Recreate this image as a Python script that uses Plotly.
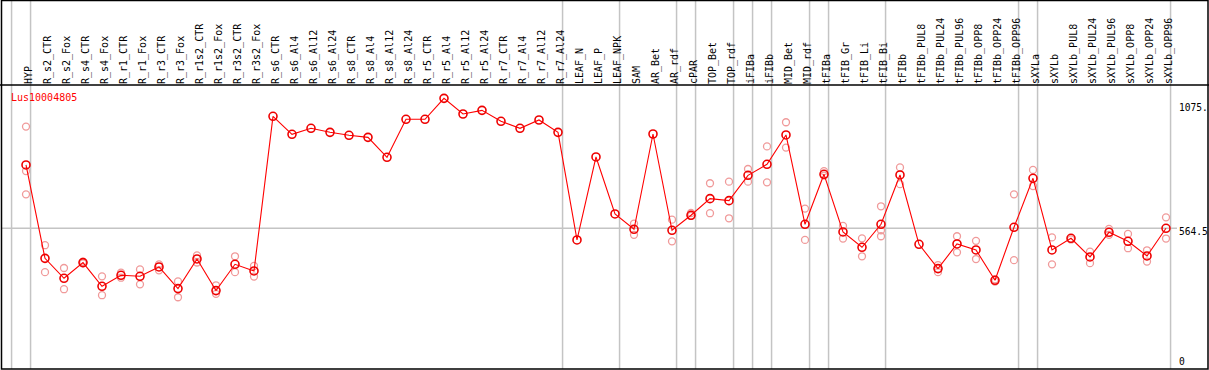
import plotly.graph_objects as go

# ---------------- data ----------------
categories = [
    "HYP", "R_s2_CTR", "R_s2_Fox", "R_s4_CTR", "R_s4_Fox", "R_r1_CTR", "R_r1_Fox",
    "R_r3_CTR", "R_r3_Fox", "R_r1s2_CTR", "R_r1s2_Fox", "R_r3s2_CTR", "R_r3s2_Fox",
    "R_s6_CTR", "R_s6_Al4", "R_s6_Al12", "R_s6_Al24", "R_s8_CTR", "R_s8_Al4",
    "R_s8_Al12", "R_s8_Al24", "R_r5_CTR", "R_r5_Al4", "R_r5_Al12", "R_r5_Al24",
    "R_r7_CTR", "R_r7_Al4", "R_r7_Al12", "R_r7_Al24", "LEAF_N", "LEAF_P", "LEAF_NPK",
    "SAM", "AR_Bet", "AR_rdf", "cPAR", "TOP_Bet", "TOP_rdf", "iFIBa", "iFIBb",
    "MID_Bet", "MID_rdf", "tFIBa", "tFIB_Gr", "tFIB_Li", "tFIB_Bi", "tFIBb",
    "tFIBb_PUL8", "tFIBb_PUL24", "tFIBb_PUL96", "tFIBb_OPP8", "tFIBb_OPP24",
    "tFIBb_OPP96", "sXYLa", "sXYLb", "sXYLb_PUL8", "sXYLb_PUL24", "sXYLb_PUL96",
    "sXYLb_OPP8", "sXYLb_OPP24", "sXYLb_OPP96",
]

means = [
    839.5, 434, 347.5, 415.5, 312.7, 360.5, 356, 396.6, 302.6, 431.4, 294, 408.2, 379.3,
    1050.7, 972.6, 998.6, 981.2, 968.2, 959.5, 872.7, 1037.7, 1037.7, 1128.8, 1060.8,
    1076.7, 1029, 998.6, 1034.8, 981.2,
    513.9, 874.2, 626.7, 560.2, 974, 555.8, 621, 693.3, 684.6, 794.6, 842.3, 969.7,
    581.9, 798.9, 548.6, 482, 581.9, 796,
    495, 389.4, 496.5, 470.4, 338.8, 568.8, 781.5, 470.4, 521.1, 440, 547.1, 508,
    444.4, 564.5,
]

rep_a = [
    1006, 491, 392, 420, 356, 372, 386, 408, 334, 447, 317, 443, 401,
    None, None, None, None, None, None, None, None, None, None, None, None, None, None, None, None,
    None, None, None, 585, None, 602, 631, 760, 767, 822, 920, 1025, 650, 813, 575, 521, 660, 829,
    None, 405, 530, 510, 343, 712, 818, 525, 516, 463, 562, 540, 469, 612,
]
rep_b = [
    712, 374, 300, 412, 274, 350, 321, 382, 265, 416, 280, 374, 355,
    None, None, None, None, None, None, None, None, None, None, None, None, None, None, None, None,
    None, None, None, 536, None, 508, 618, 630, 608, 767, 764, 915, 514, 793, 520, 443, 530, 756,
    None, 374, 460, 431, 333, 426, 748, 408, None, 413, 536, 478, 420, 520,
]
rep_c = [
    813, None, None, None, None, None, None, None, None, None, None, None, None,
    None, None, None, None, None, None, None, None, None, None, None, None, None, None, None, None,
    None, None, None, None, None, None, None, None, None, None, None, None, None, None, None, None, 556, None,
    None, None, None, None, None, None, None, None, None, None, None, None, None, None,
]

group_ends = [-1, 0, 28, 31, 34, 35, 37, 38, 39, 41, 42, 45, 52, 53, 60]
gene_name = "Lus10004805"
axis_labels = ["1075.", "564.5", "0"]
axis_label_values = [1104, 564.5, 0]
mid_value = 564.5

# ---------------- layout geometry ----------------
W, H = 1209, 370
ML, MR, MT, MB = 1, 1, 85, 1
X0_PX, STEP_PX = 26, 19          # pixel of first category, spacing
Y0_PX, PX_PER_UNIT = 358.3, 0.2303
LABEL_NUDGE = 0.12               # rotated glyphs sit left of their anchor

plot_w = W - ML - MR
plot_h = H - MT - MB
x_lo = (ML - X0_PX) / STEP_PX
x_hi = (W - MR - X0_PX) / STEP_PX
y_lo = (Y0_PX - (H - MB)) / PX_PER_UNIT
y_hi = (Y0_PX - MT) / PX_PER_UNIT
idx = list(range(len(categories)))

def ypaper(px):
    return (H - MB - px) / plot_h

def xpaper(px):
    return (px - ML) / plot_w

FONT = "DejaVu Sans Mono"

fig = go.Figure()

# replicates
rx, ry = [], []
for rep in (rep_a, rep_b, rep_c):
    for i, v in zip(idx, rep):
        if v is not None:
            rx.append(i)
            ry.append(v)
fig.add_trace(go.Scatter(
    x=rx, y=ry, mode="markers",
    marker=dict(symbol="circle-open", size=7, color="#f09a9a", line=dict(width=1.3)),
    hoverinfo="skip", showlegend=False,
))
# means
fig.add_trace(go.Scatter(
    x=idx, y=means, mode="lines+markers",
    line=dict(color="#ff0000", width=1.1),
    marker=dict(symbol="circle-open", size=8, color="#ee0000", line=dict(width=1.6)),
    text=categories, showlegend=False,
))

shapes = []
top_paper = ypaper(0)
for g in group_ends:
    shapes.append(dict(type="line", xref="x", yref="paper", x0=g + 0.24, x1=g + 0.24,
                       y0=0, y1=top_paper, line=dict(color="#c4c4c4", width=1.5), layer="below"))
shapes.append(dict(type="line", xref="paper", yref="y", x0=0, x1=xpaper(1177),
                   y0=mid_value, y1=mid_value, line=dict(color="#c4c4c4", width=1.5), layer="below"))
# black separator under labels and frame
shapes.append(dict(type="line", xref="paper", yref="paper", x0=xpaper(0), x1=xpaper(W),
                   y0=1, y1=1, line=dict(color="black", width=1.5)))
shapes.append(dict(type="rect", xref="paper", yref="paper",
                   x0=xpaper(1.5), x1=xpaper(1208), y0=ypaper(369), y1=ypaper(0.5),
                   line=dict(color="black", width=1.5), fillcolor="rgba(0,0,0,0)"))

annotations = []
annotations.append(dict(x=xpaper(9), y=ypaper(97), xref="paper", yref="paper", text=gene_name,
                        showarrow=False, xanchor="left", yanchor="middle",
                        font=dict(family=FONT, size=10, color="#ff0000")))
for t, v in zip(axis_labels, axis_label_values):
    annotations.append(dict(x=xpaper(1177), y=v, xref="paper", yref="y", text=t,
                            showarrow=False, xanchor="left", yanchor="top", yshift=4,
                            font=dict(family=FONT, size=9.6, color="black")))

fig.update_layout(
    width=W, height=H,
    margin=dict(l=ML, r=MR, t=MT, b=MB, pad=0),
    paper_bgcolor="white", plot_bgcolor="white",
    xaxis=dict(range=[x_lo, x_hi], showgrid=False, zeroline=False, side="top",
               tickmode="array", tickvals=[i + LABEL_NUDGE for i in idx], ticktext=categories,
               tickangle=-90,
               tickfont=dict(family=FONT, size=10, color="black"),
               showline=False, ticks=""),
    yaxis=dict(range=[y_lo, y_hi], showgrid=False, zeroline=False, showticklabels=False,
               showline=False, ticks=""),
    shapes=shapes, annotations=annotations,
)

fig.write_html("out.html", config={"displayModeBar": False},
               post_script="document.body.style.margin='0';document.body.style.overflow='hidden';")
